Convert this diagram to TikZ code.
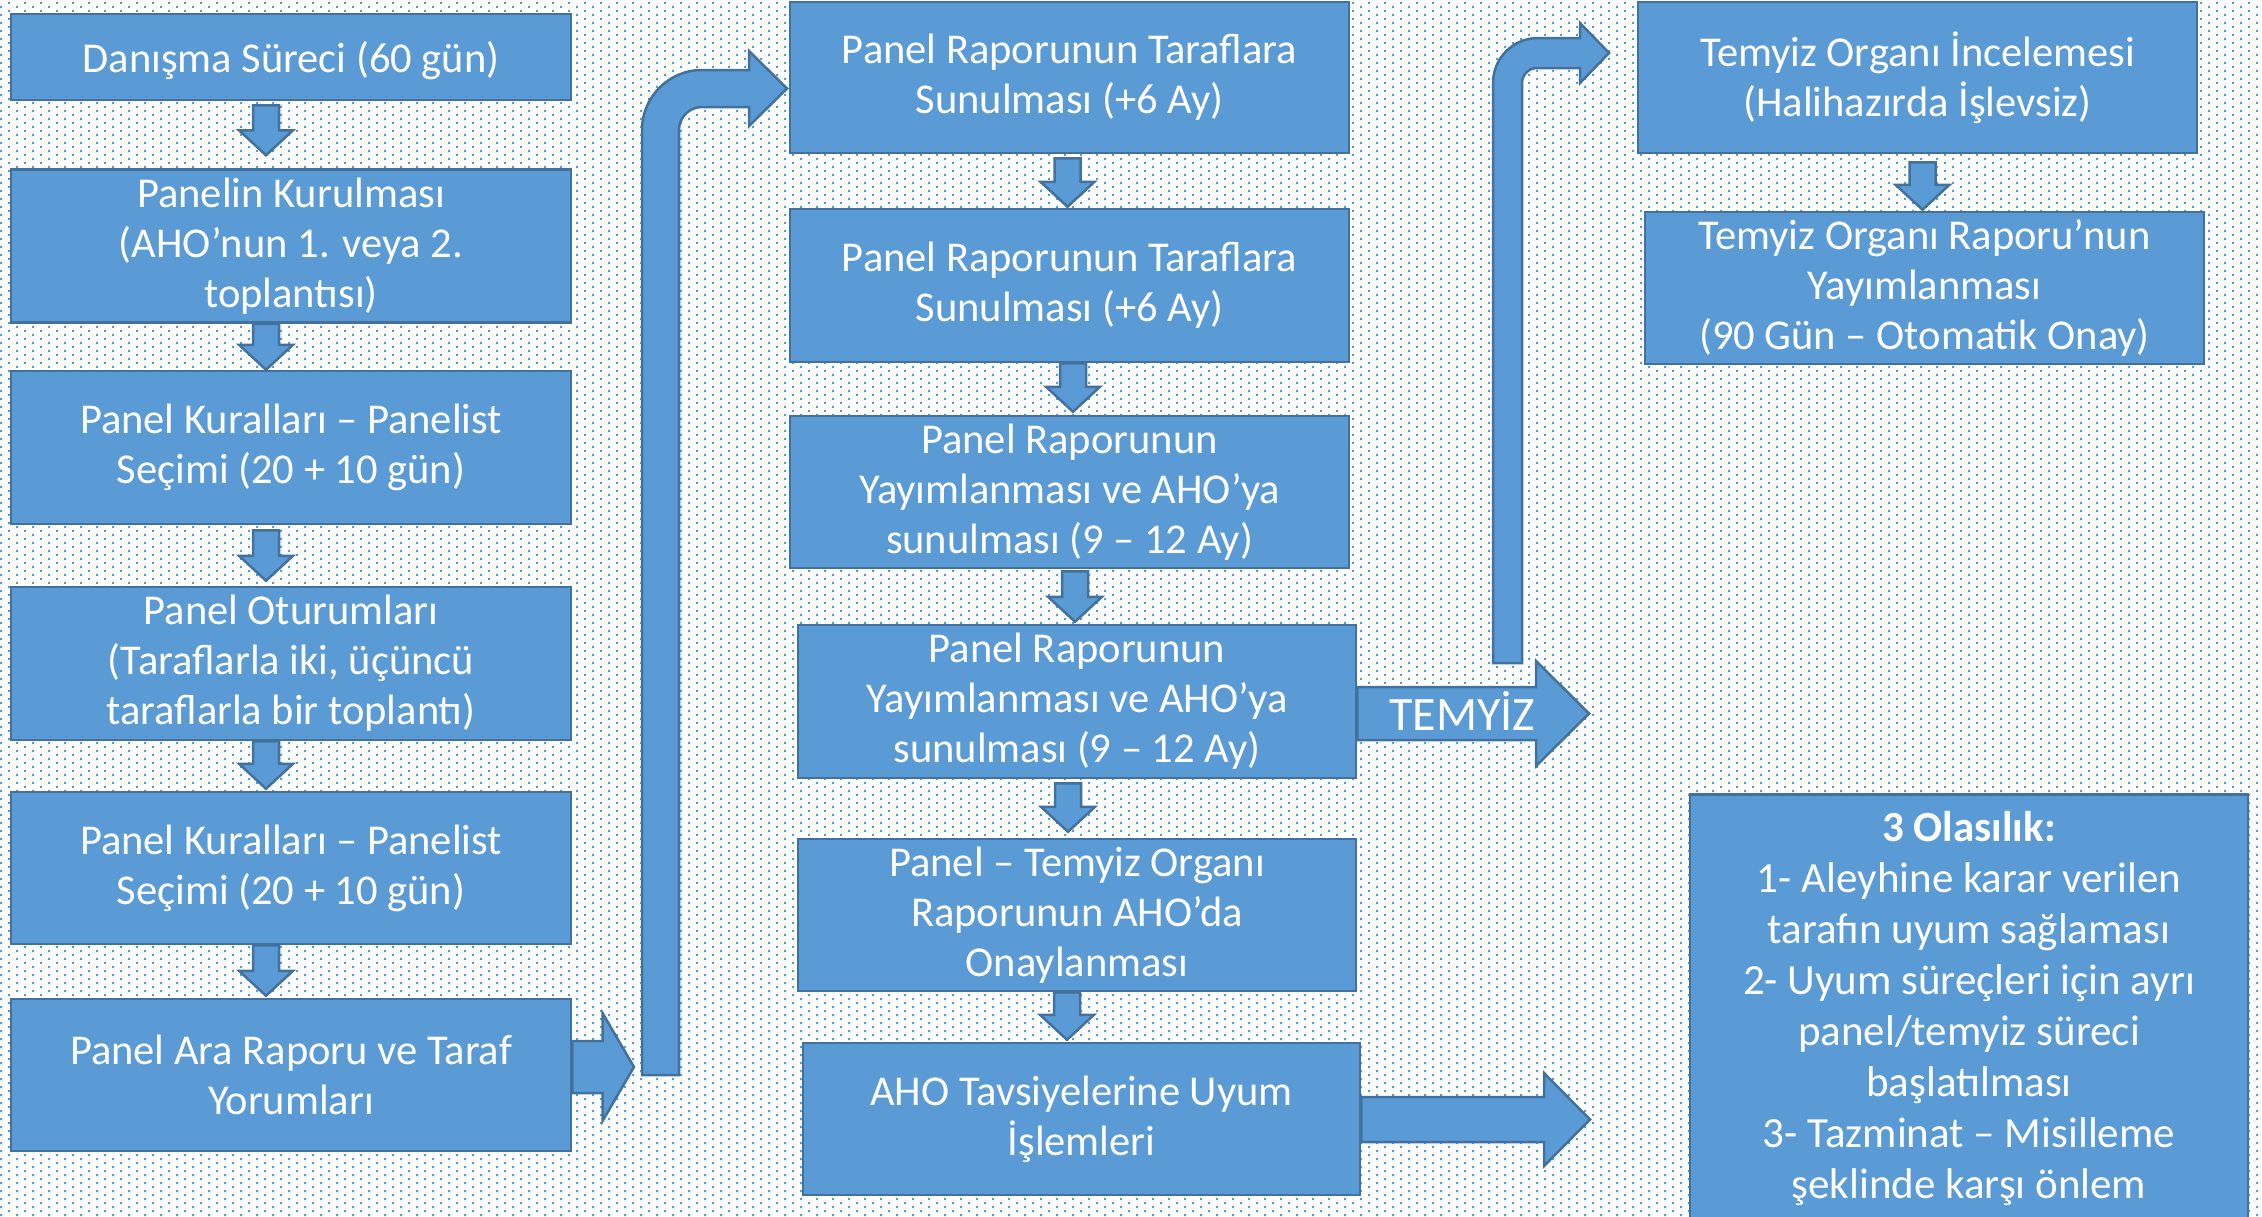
\documentclass[tikz,border=0pt]{standalone}
\usepackage{fontspec}
\setmainfont{Carlito}
\usetikzlibrary{calc,patterns}
\pgfdeclarepatternformonly{tdots}{\pgfpoint{-1bp}{-1bp}}{\pgfpoint{17bp}{9bp}}{\pgfpoint{16bp}{8bp}}{%
  \pgfpathrectangle{\pgfpoint{0bp}{0bp}}{\pgfpoint{2bp}{2bp}}%
  \pgfpathrectangle{\pgfpoint{8bp}{4bp}}{\pgfpoint{2bp}{2bp}}%
  \pgfusepath{fill}}
\definecolor{boxfill}{HTML}{5B9BD5}
\definecolor{boxline}{HTML}{41719C}
\definecolor{dotblue}{HTML}{5B9BD5}
\tikzset{
  box/.style={draw=boxline, fill=boxfill, line width=2.5bp, text=white, align=center,
    inner sep=0pt, font=\fontsize{42.5bp}{50bp}\selectfont,
    execute at begin node={\rule{0pt}{39bp}}},
  blockarrow/.style={draw=boxline, fill=boxfill, line width=2.5bp, line join=miter},
  plaintext/.style={text=white, inner sep=0pt},
}
% down block arrow: #1 from node, #2 to node, #3 x centre, #4 gap at start, #5 gap at tip
\newcommand\dblock[5]{%
  \coordinate (ds) at ($(#1.south -| #3,0)+(0,#4)$);
  \coordinate (dt) at ($(#2.north -| #3,0)+(0,-#5)$);
  \draw[blockarrow] ($(ds)+(-13,0)$) -- ($(dt)+(-13,-25)$) -- ($(dt)+(-27,-25)$) -- (dt)
    -- ($(dt)+(27,-25)$) -- ($(dt)+(13,-25)$) -- ($(ds)+(13,0)$) -- cycle;}
% right block arrow: #1 from node, #2 x of head start, #3 y centre, #4 shaft half, #5 head half, #6 head length
\newcommand\rblock[6]{%
  \coordinate (rs) at (#1.east |- 0,#3);
  \draw[blockarrow] ($(rs)+(0,-#4)$) -- ({#2},{#3-#4}) -- ({#2},{#3-#5}) -- ({#2+#6},{#3})
    -- ({#2},{#3+#5}) -- ({#2},{#3+#4}) -- ($(rs)+(0,#4)$) -- cycle;}
\begin{document}
\begin{tikzpicture}[x=1bp,y=-1bp]
\useasboundingbox (0,0) rectangle (2262,1216);
\fill[white] (0,0) rectangle (2262,1216);
\fill[pattern=tdots, pattern color=dotblue] (0,0) rectangle (2262,1216);

% left column
\node[box, minimum width=560bp, minimum height=86bp] (L1) at (291,57) {Danışma Süreci (60 gün)};
\node[box, minimum width=560bp, minimum height=153bp] (L2) at (291,246) {Panelin Kurulması\\(AHO’nun 1. veya 2.\\toplantısı)};
\node[box, minimum width=560bp, minimum height=153bp] (L3) at (291,447.5) {Panel Kuralları – Panelist\\Seçimi (20 + 10 gün)};
\node[box, minimum width=560bp, minimum height=153bp] (L4) at (291,663.5) {Panel Oturumları\\(Taraflarla iki, üçüncü\\taraflarla bir toplantı)};
\node[box, minimum width=560bp, minimum height=152bp] (L5) at (291,868) {Panel Kuralları – Panelist\\Seçimi (20 + 10 gün)};
\node[box, minimum width=560bp, minimum height=152bp] (L6) at (291,1075) {Panel Ara Raporu ve Taraf\\Yorumları};

% middle column
\node[box, minimum width=559bp, minimum height=151bp] (M1) at (1069.5,77.5) {Panel Raporunun Taraflara\\Sunulması (+6 Ay)};
\node[box, minimum width=559bp, minimum height=153bp] (M2) at (1069.5,285.5) {Panel Raporunun Taraflara\\Sunulması (+6 Ay)};
\node[box, minimum width=559bp, minimum height=152bp] (M3) at (1069.5,492) {Panel Raporunun\\Yayımlanması ve AHO’ya\\sunulması (9 – 12 Ay)};
\node[box, minimum width=558bp, minimum height=153bp] (M4) at (1077,701.5) {Panel Raporunun\\Yayımlanması ve AHO’ya\\sunulması (9 – 12 Ay)};
\node[box, minimum width=558bp, minimum height=152bp] (M5) at (1077,915) {Panel – Temyiz Organı\\Raporunun AHO’da\\Onaylanması};
\node[box, minimum width=557bp, minimum height=152bp] (M6) at (1081.5,1119) {AHO Tavsiyelerine Uyum\\İşlemleri};

% right column
\node[box, minimum width=559bp, minimum height=151bp] (R1) at (1917.5,77.5) {Temyiz Organı İncelemesi\\(Halihazırda İşlevsiz)};
\node[box, minimum width=559bp, minimum height=152bp] (R2) at (1924.5,288) {Temyiz Organı Raporu’nun\\Yayımlanması\\(90 Gün – Otomatik Onay)};
\node[box, anchor=north, minimum width=558bp, inner ysep=17bp, execute at begin node={},
  font=\fontsize{43bp}{51bp}\selectfont] (R3) at (1969,793)
  {\textbf{3 Olasılık:}\\1- Aleyhine karar verilen\\tarafın uyum sağlaması\\2- Uyum süreçleri için ayrı\\panel/temyiz süreci\\başlatılması\\3- Tazminat – Misilleme\\şeklinde karşı önlem};

% down arrows
\dblock{L1}{L2}{266}{4}{13}
\dblock{L2}{L3}{266}{0}{0}
\dblock{L3}{L4}{266}{5}{5}
\dblock{L4}{L5}{266}{0}{2}
\dblock{L5}{L6}{266}{0}{2}
\dblock{M1}{M2}{1067.5}{4}{1}
\dblock{M2}{M3}{1073}{0}{3}
\dblock{M3}{M4}{1075}{2}{2}
\dblock{M4}{M5}{1068}{4}{6}
\dblock{M5}{M6}{1067}{0}{2}
\dblock{R1}{R2}{1922.5}{8}{1}

% right arrows
\rblock{L6}{602.5}{1067}{26}{54}{31.5}
\rblock{M4}{1536}{713.5}{26.5}{52.5}{53}
\rblock{M6}{1544}{1119.5}{22.5}{46.5}{46}
\node[plaintext, anchor=base west, font=\fontsize{48bp}{58bp}\selectfont] (temyiz) at (1389,730) {TEMYİZ};

% bent arrows
\draw[blockarrow] (642,1075) -- (642,130) arc[start angle=180,end angle=270,radius=60]
  -- (749,70) -- (749,51) -- (787,88.5) -- (749,126) -- (749,107) -- (702,107)
  arc[start angle=270,end angle=180,radius=23] -- (679,1075) -- cycle;
\draw[blockarrow] (1493,663) -- (1493,83) arc[start angle=180,end angle=270,radius=45]
  -- (1580,38) -- (1580,23) -- (1609,53) -- (1580,83) -- (1580,68) -- (1537,68)
  arc[start angle=270,end angle=180,radius=15] -- (1522,663) -- cycle;
\end{tikzpicture}
\end{document}
